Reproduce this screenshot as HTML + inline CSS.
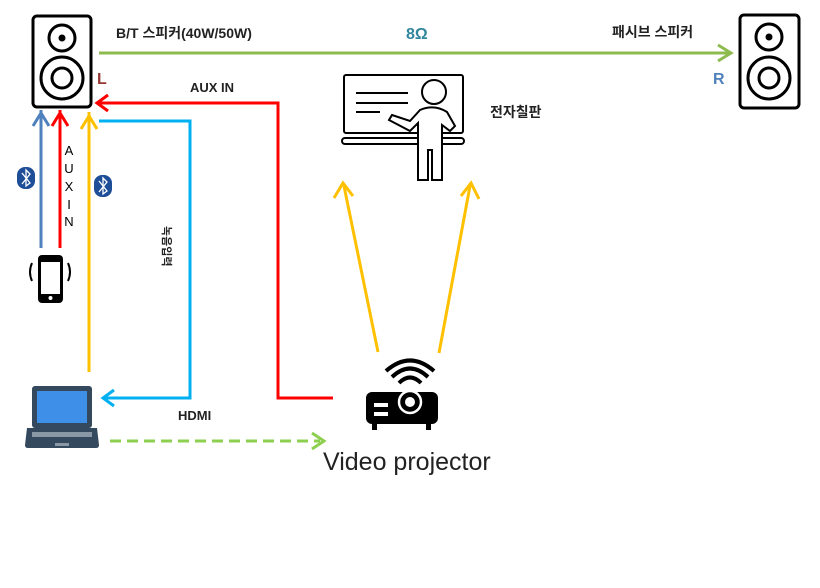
<!DOCTYPE html>
<html><head><meta charset="utf-8"><style>
html,body{margin:0;padding:0;background:#fff;width:820px;height:588px;overflow:hidden}
svg{display:block}
text{font-family:"Liberation Sans","Noto Sans CJK KR",sans-serif}
</style></head><body>
<svg width="820" height="588" viewBox="0 0 820 588" xmlns="http://www.w3.org/2000/svg">
<!-- Speaker L -->
<rect x="33" y="16" width="58" height="91" rx="4" fill="#fff" stroke="#000" stroke-width="3"/>
<circle cx="62" cy="38" r="13" fill="none" stroke="#000" stroke-width="3"/>
<circle cx="62" cy="38" r="3.5" fill="#000"/>
<circle cx="62" cy="78" r="21" fill="none" stroke="#000" stroke-width="3"/>
<circle cx="62" cy="78" r="10" fill="none" stroke="#000" stroke-width="3"/>
<!-- Speaker R -->
<rect x="740" y="15" width="59" height="93" rx="4" fill="#fff" stroke="#000" stroke-width="3"/>
<circle cx="769" cy="37" r="13" fill="none" stroke="#000" stroke-width="3"/>
<circle cx="769" cy="37" r="3.5" fill="#000"/>
<circle cx="769" cy="78" r="21" fill="none" stroke="#000" stroke-width="3"/>
<circle cx="769" cy="78" r="10" fill="none" stroke="#000" stroke-width="3"/>
<!-- green top line -->
<line x1="99" y1="53" x2="730" y2="53" stroke="#8dbb4f" stroke-width="3"/>
<path d="M718,45 L731,53 L718,61" fill="none" stroke="#8dbb4f" stroke-width="3"/>
<text x="116" y="38" font-size="14" font-weight="bold" fill="#222">B/T 스피커(40W/50W)</text>
<text x="406" y="39" font-size="16" font-weight="bold" fill="#31859c">8Ω</text>
<text x="612" y="37" font-size="14" font-weight="bold" fill="#222">패시브 스피커</text>
<text x="97" y="84" font-size="16" font-weight="bold" fill="#953735">L</text>
<text x="713" y="84" font-size="16" font-weight="bold" fill="#4f81bd">R</text>
<!-- red AUX IN -->
<polyline points="333,398 278,398 278,103 98,103" fill="none" stroke="#ff0000" stroke-width="3"/>
<path d="M108,95 L97,103 L108,111" fill="none" stroke="#ff0000" stroke-width="3"/>
<text x="190" y="92" font-size="13" font-weight="bold" fill="#222">AUX IN</text>
<!-- cyan HDMI -->
<polyline points="99,121 190,121 190,398 104,398" fill="none" stroke="#00b0f0" stroke-width="3"/>
<path d="M114,390 L103,398 L114,406" fill="none" stroke="#00b0f0" stroke-width="3"/>
<text x="178" y="420" font-size="13" font-weight="bold" fill="#222">HDMI</text>
<text transform="translate(163,226) rotate(90)" font-size="11" font-weight="bold" fill="#222">녹음입력</text>
<!-- vertical arrows -->
<line x1="41" y1="248" x2="41" y2="110" stroke="#4f81bd" stroke-width="3"/>
<path d="M33,126 L41,113 L49,126" fill="none" stroke="#4f81bd" stroke-width="3"/>
<line x1="60" y1="248" x2="60" y2="110" stroke="#ff0000" stroke-width="3"/>
<path d="M52,126 L60,113 L68,126" fill="none" stroke="#ff0000" stroke-width="3"/>
<line x1="89" y1="372" x2="89" y2="112" stroke="#ffc000" stroke-width="3"/>
<path d="M81,129 L89,116 L97,129" fill="none" stroke="#ffc000" stroke-width="3"/>
<g font-size="13" fill="#000" text-anchor="middle">
<text x="69" y="155">A</text><text x="69" y="173">U</text><text x="69" y="191">X</text><text x="69" y="209">I</text><text x="69" y="226">N</text>
</g>
<!-- bluetooth icons -->
<rect x="17" y="167" width="18" height="22" rx="8" fill="#1f4e99"/>
<path d="M22,173 L30,183 L26,186 L26,170 L30,174 L22,184" fill="none" stroke="#fff" stroke-width="1.3"/>
<rect x="94" y="175" width="18" height="22" rx="8" fill="#1f4e99"/>
<path d="M99,181 L107,191 L103,194 L103,178 L107,182 L99,192" fill="none" stroke="#fff" stroke-width="1.3"/>
<!-- phone -->
<rect x="38" y="255" width="25" height="48" rx="4" fill="#000"/>
<rect x="41" y="262" width="19" height="32" fill="#fff"/>
<circle cx="50.5" cy="298" r="2" fill="#fff"/>
<path d="M32,263 Q28,272 32,281 M68,263 Q72,272 68,281" fill="none" stroke="#000" stroke-width="2"/>
<!-- laptop -->
<rect x="32" y="386" width="60" height="42" rx="3" fill="#34495e"/>
<rect x="37" y="391" width="50" height="32" fill="#3d8fe8"/>
<path d="M27,428 L97,428 L99,445 Q99,448 96,448 L28,448 Q25,448 25,445 Z" fill="#34495e"/>
<rect x="32" y="432" width="60" height="5" fill="#8a97a5"/>
<rect x="55" y="443" width="14" height="3" fill="#8a97a5"/>
<!-- green dashed -->
<line x1="110" y1="441" x2="320" y2="441" stroke="#8dd04f" stroke-width="3" stroke-dasharray="11,6"/>
<path d="M312,433 L324,441 L312,449" fill="none" stroke="#8dd04f" stroke-width="3"/>
<!-- projector -->
<rect x="366" y="392" width="72" height="32" rx="6" fill="#000"/>
<rect x="372" y="423" width="5" height="7" fill="#000"/><rect x="426" y="423" width="5" height="7" fill="#000"/>
<circle cx="410" cy="402" r="11" fill="#000" stroke="#fff" stroke-width="2.5"/>
<circle cx="410" cy="402" r="5" fill="#fff"/>
<rect x="374" y="403" width="14" height="4" fill="#fff"/><rect x="374" y="412" width="14" height="4" fill="#fff"/>
<path d="M399,383 Q410,372 421,383 M392,377 Q410,360 428,377 M386,371 Q410,350 434,371" fill="none" stroke="#000" stroke-width="4"/>
<text x="323" y="470" font-size="25" fill="#222">Video projector</text>
<!-- yellow diagonals -->
<line x1="378" y1="352" x2="344" y2="186" stroke="#ffc000" stroke-width="3"/>
<path d="M334,198 L343,183 L353,196" fill="none" stroke="#ffc000" stroke-width="3"/>
<line x1="439" y1="353" x2="470" y2="186" stroke="#ffc000" stroke-width="3"/>
<path d="M461,196 L471,183 L479,199" fill="none" stroke="#ffc000" stroke-width="3"/>
<!-- whiteboard -->
<g fill="none" stroke="#000" stroke-width="2">
<rect x="344" y="75" width="119" height="58" rx="2"/>
<rect x="342" y="138" width="122" height="6" rx="3"/>
<line x1="356" y1="93" x2="408" y2="93"/><line x1="356" y1="103" x2="408" y2="103"/><line x1="356" y1="112" x2="380" y2="112"/>
<ellipse cx="434" cy="92" rx="12" ry="12" fill="#fff"/>
<path d="M420,110 L410,121 L392,115 L389,120 L410,131 L418,123 L418,180 L428,180 L428,150 L432,150 L432,180 L442,180 L442,125 L450,131 L455,126 L447,112 Q434,104 420,110 Z" fill="#fff"/>
</g>
<text x="490" y="117" font-size="14" font-weight="bold" fill="#222">전자칠판</text>
</svg>
</body></html>
